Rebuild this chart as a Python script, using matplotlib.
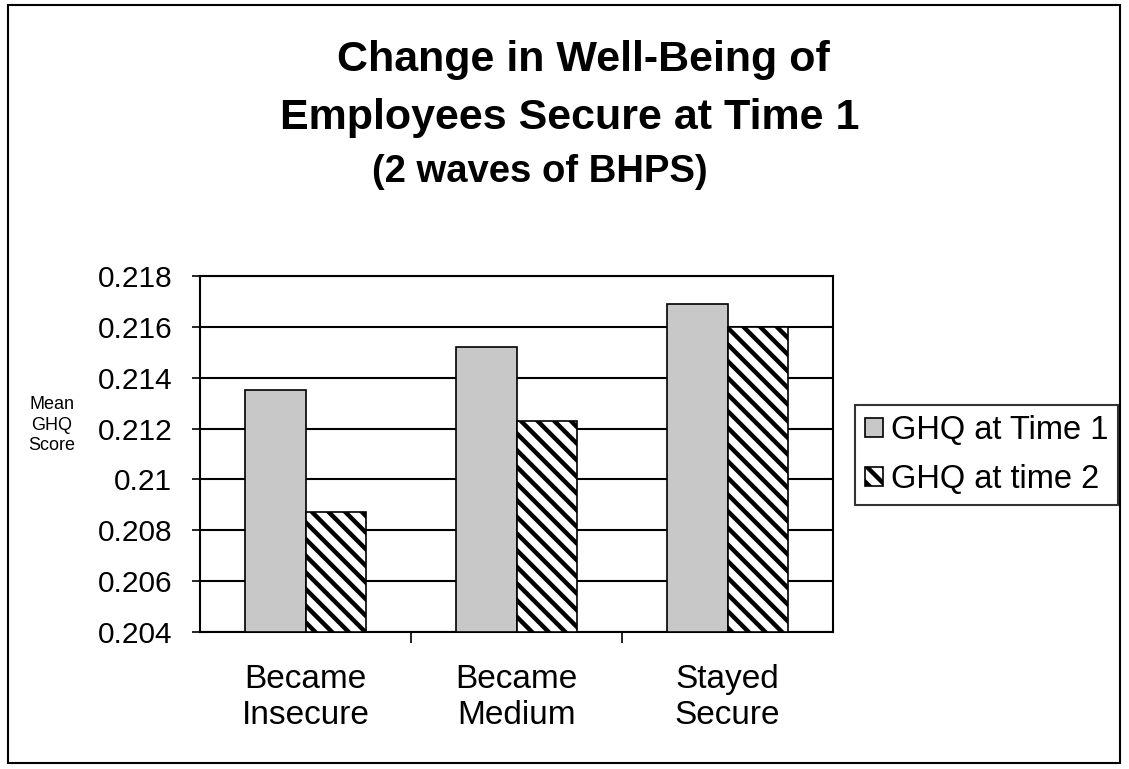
import matplotlib.pyplot as plt
from matplotlib.patches import Rectangle

categories = ['Became\nInsecure', 'Became\nMedium', 'Stayed\nSecure']
ghq_time1 = [0.21350, 0.21520, 0.21690]
ghq_time2 = [0.20870, 0.21228, 0.21600]
series_names = ['GHQ at Time 1', 'GHQ at time 2']
yticks = [0.204, 0.206, 0.208, 0.21, 0.212, 0.214, 0.216, 0.218]
ytick_labels = ['0.204', '0.206', '0.208', '0.21', '0.212', '0.214', '0.216', '0.218']

plt.rcParams['font.family'] = ['Liberation Sans', 'DejaVu Sans']
plt.rcParams['hatch.linewidth'] = 3.2

fig = plt.figure(figsize=(11.29, 7.69), dpi=100)
# outer frame
fig.patches.append(Rectangle((0.007, 0.008), 0.985, 0.985, transform=fig.transFigure,
                             fill=False, edgecolor='black', linewidth=1.5))

ax = fig.add_axes([200 / 1129, 1 - 632 / 769, 633 / 1129, 356 / 769])

x = range(len(categories))
w = 0.287
b1 = ax.bar([i - w / 2 for i in x], [v - 0.204 for v in ghq_time1], w, bottom=0.204,
            color='#c8c8c8', edgecolor='black', linewidth=1.2, label=series_names[0], zorder=3)
b2 = ax.bar([i + w / 2 for i in x], [v - 0.204 for v in ghq_time2], w, bottom=0.204,
            color='white', edgecolor='black', hatch='\\\\', linewidth=1.2, label=series_names[1], zorder=3)

ax.set_xlim(-0.5, 2.5)
ax.set_ylim(0.204, 0.218)
ax.set_yticks(yticks)
ax.set_yticklabels(ytick_labels, fontsize=21.5)
ax.yaxis.grid(True, color='black', linewidth=1.5, zorder=0)
ax.set_axisbelow(True)

ax.set_xticks(list(x))
ax.set_xticklabels(categories, fontsize=24, linespacing=1.22)
ax.tick_params(axis='x', which='major', length=0, pad=23)
ax.set_xticks([0.5, 1.5], minor=True)
ax.tick_params(axis='x', which='minor', length=8, width=1.2, direction='out')
ax.tick_params(axis='y', length=6, width=1.2, direction='out', pad=14)

for s in ax.spines.values():
    s.set_linewidth(1.5)
    s.set_color('black')

fig.text(52 / 1129, 1 - 425 / 769, 'Mean\nGHQ\nScore', fontsize=13, ha='center', va='center',
         linespacing=1.3)

fig.text(583 / 1129, 1 - 60 / 769, 'Change in Well-Being of', fontsize=31, fontweight='bold',
         ha='center', va='center')
fig.text(570 / 1129, 1 - 118 / 769, 'Employees Secure at Time 1', fontsize=31, fontweight='bold',
         ha='center', va='center')
fig.text(540 / 1129, 1 - 172 / 769, '(2 waves of BHPS)', fontsize=27.5, fontweight='bold',
         ha='center', va='center')

leg = fig.legend(handles=[b1, b2], labels=series_names, loc='center left',
                 bbox_to_anchor=(855 / 1129, 1 - 455 / 769), fontsize=23.5, frameon=True,
                 fancybox=False, edgecolor='black', handlelength=0.55, handleheight=0.55,
                 handletextpad=0.25, borderpad=0.3, labelspacing=0.55, borderaxespad=0)
leg.get_frame().set_linewidth(1.5)

fig.savefig('out.png', dpi=100)
